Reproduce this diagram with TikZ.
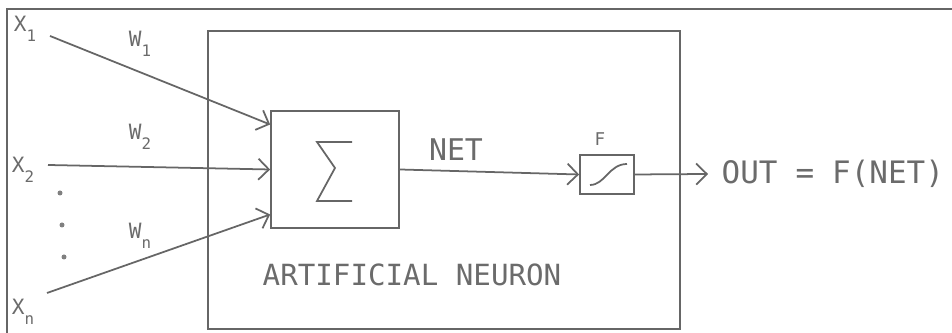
\documentclass[tikz,border=0pt]{standalone}
\usepackage{fontspec}
\setmainfont{DejaVu Sans Mono}
\usetikzlibrary{arrows.meta}
\tikzset{
  ink/.style={draw=black!60, line width=0.5pt},
  wire/.style={ink, -{Straight Barb[length=3pt,width=6pt]}},
  lbl/.style={text=black!58, inner sep=0pt},
  box/.style={ink, rectangle, inner sep=0pt},
}
\newcommand{\sub}[2]{#1\raisebox{-3pt}{\fontsize{4.5}{5}\selectfont #2}}
\begin{document}
\begin{tikzpicture}[x=0.1mm,y=-0.1mm]
\useasboundingbox (0,0) rectangle (952,333);
% frame of the figure
\draw[black!60, line width=0.6pt] (7,333) -- (7,9) -- (952,9);
% boxes
\node[box, minimum width=47.2mm, minimum height=29.8mm] (neuron) at (444,180) {};
\node[box, minimum width=12.8mm, minimum height=11.7mm] (sum) at (335,169.5) {};
\node[box, minimum width=5.4mm, minimum height=3.9mm] (act) at (607,174.5) {};
\draw[ink] ([shift={(17,-27.5)}]sum.center) -- ([shift={(-18,-27.5)}]sum.center)
  -- ([shift={(0,-1.5)}]sum.center) -- ([shift={(-18,31.5)}]sum.center)
  -- ([shift={(17,31.5)}]sum.center);
\draw[ink] ([shift={(-17,10.5)}]act.center) .. controls ([shift={(-2,10.5)}]act.center)
  and ([shift={(2,-10.5)}]act.center) .. ([shift={(20,-10.5)}]act.center);
% inputs
\coordinate (in1) at (50,36);
\coordinate (in2) at (48,165);
\coordinate (inn) at (47,293);
\draw[wire] (in1) -- ([yshift=4.5mm]sum.west);
\draw[wire] (in2) -- (sum.west);
\draw[wire] (inn) -- ([yshift=-4.5mm]sum.west);
\node[lbl, font=\fontsize{6}{7}\selectfont] (x1) at (25,29) {\sub{X}{1}};
\node[lbl, font=\fontsize{6}{7}\selectfont] (x2) at (23,170) {\sub{X}{2}};
\node[lbl, font=\fontsize{6}{7}\selectfont] (xn) at (23,312) {\sub{X}{n}};
\node[lbl, font=\fontsize{6}{7}\selectfont] (w1) at (140,44) {\sub{W}{1}};
\node[lbl, font=\fontsize{6}{7}\selectfont] (w2) at (140,137) {\sub{W}{2}};
\node[lbl, font=\fontsize{6}{7}\selectfont] (wn) at (140,236) {\sub{W}{n}};
\fill[black!50] (60,193) circle (2.5);
\fill[black!50] (62,225) circle (2.5);
\fill[black!50] (64,257) circle (2.5);
% output side
\draw[wire] (sum.east) -- (act.west);
\node[lbl, font=\fontsize{8.5}{10}\selectfont] (net) at (456,150) {NET};
\node[lbl, font=\fontsize{5}{6}\selectfont] (f) at (600,139) {F};
\coordinate (out) at (708,174);
\draw[wire] (act.east) -- (out);
\node[lbl, font=\fontsize{8.8}{10}\selectfont, anchor=west] (eq) at (721,174) {OUT\hspace{1.8mm}=\hspace{1.8mm}F(NET)};
\node[lbl, font=\fontsize{8.3}{9}\selectfont] (name) at (412,275) {ARTIFICIAL NEURON};
\end{tikzpicture}
\end{document}
